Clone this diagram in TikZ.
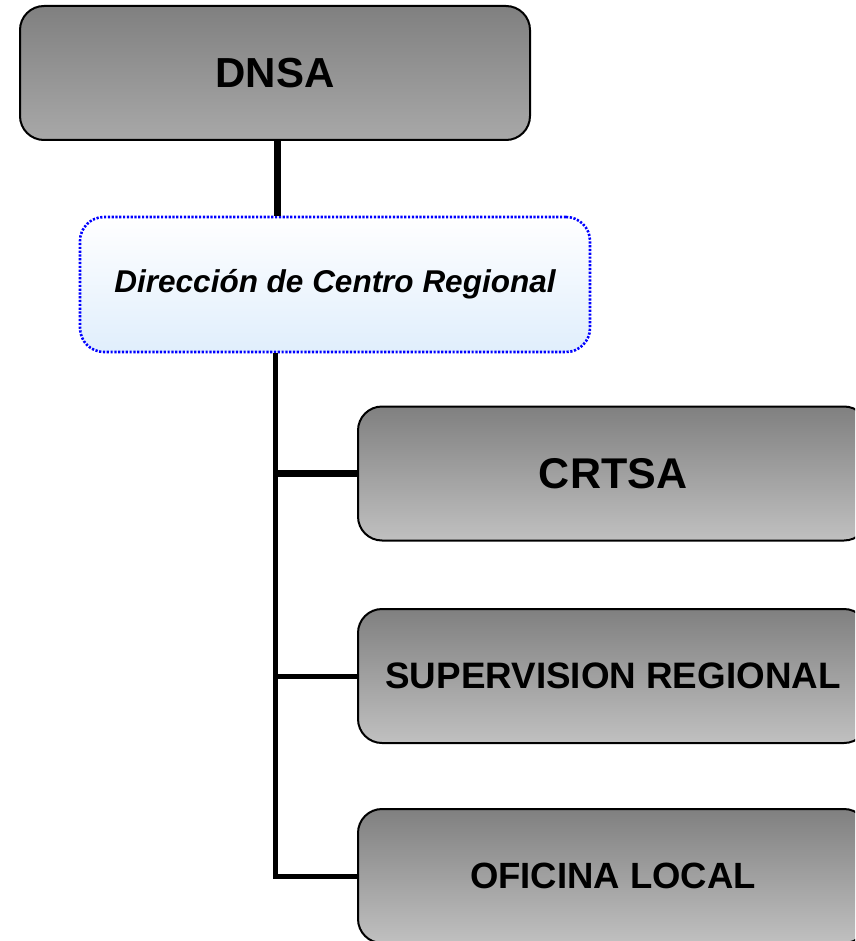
\documentclass[tikz,border=0pt]{standalone}
\usepackage{fontspec}
\setmainfont{Liberation Sans}
\definecolor{boxtop}{HTML}{808080}
\definecolor{boxbot}{HTML}{C0C0C0}
\definecolor{dnsabot}{HTML}{A8A8A8}
\definecolor{dirbot}{HTML}{E0EEFC}
\definecolor{dotblue}{HTML}{0000FF}
\begin{document}
\begin{tikzpicture}[x=1pt,y=-1pt,
  graybox/.style={draw=black, line width=2pt, rounded corners=24pt,
    minimum width=510pt, minimum height=134pt, inner sep=0pt,
    top color=boxtop, bottom color=boxbot, font=\bfseries},
  dirbox/.style={draw=dotblue, line width=2.6pt, dash pattern=on 2.2pt off 1.6pt,
    rounded corners=24pt, minimum width=510pt, minimum height=135pt, inner sep=0pt,
    top color=white, bottom color=dirbot, font=\bfseries\itshape},
  thickconn/.style={line width=7pt},
  thinconn/.style={line width=5pt}]
\useasboundingbox (0,0) rectangle (855,941);
\clip (0,0) rectangle (855,941);
\coordinate (tx) at (277,0);
\coordinate (vx) at (275,0);
\node[graybox, bottom color=dnsabot] (dnsa) at (275,73) {\fontsize{42}{48}\selectfont DNSA};
\node[dirbox] (dir) at (335,284.5) {\fontsize{31.5}{36}\selectfont Dirección de Centro Regional};
\node[graybox] (crtsa) at (613,473.5) {\fontsize{43}{48}\selectfont CRTSA};
\node[graybox] (sup) at (613,676) {\fontsize{36.8}{42}\selectfont SUPERVISION REGIONAL};
\node[graybox] (ofi) at (613,876) {\fontsize{36.5}{42}\selectfont OFICINA LOCAL};
\draw[thickconn] (dnsa.south -| tx) -- (dir.north -| tx);
\draw[thinconn, line join=miter] (dir.south -| vx) -- (vx |- ofi.west) -- (ofi.west);
\draw[thickconn] (vx |- crtsa.west) -- (crtsa.west);
\draw[thinconn] (vx |- sup.west) -- (sup.west);
\end{tikzpicture}
\end{document}
